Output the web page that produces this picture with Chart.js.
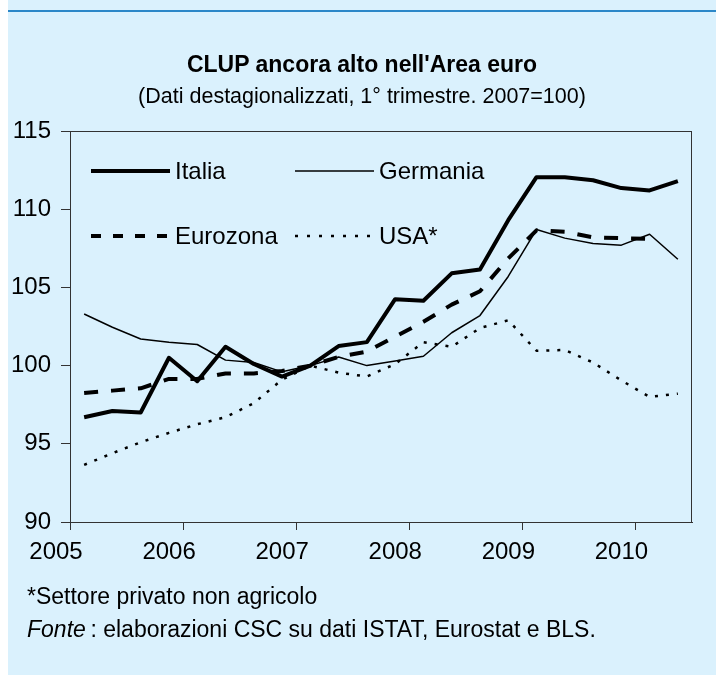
<!DOCTYPE html>
<html>
<head>
<meta charset="utf-8">
<script src="https://cdn.jsdelivr.net/npm/chart.js@4.4.1/dist/chart.umd.min.js"></script>
<style>
  html, body { margin: 0; padding: 0; background: #fff; }
  body { width: 716px; height: 675px; position: relative; overflow: hidden;
         font-family: 'Liberation Sans', Arial, sans-serif; color: #000; }
  #panel { position: absolute; left: 8px; top: 0; width: 708px; height: 675px; background: #DAF1FD; }
  #rule { position: absolute; left: 8px; top: 10px; width: 708px; height: 2px; background: #2B87C8; }
  #chart { position: absolute; left: 8px; top: 0; }
  .txt { position: absolute; white-space: nowrap; line-height: 1; }
  #title { left: 8px; width: 708px; text-align: center; top: 53px; font-size: 23px; font-weight: bold; }
  #subtitle { left: 8px; width: 708px; text-align: center; top: 86px; font-size: 21.5px; }
  #note1 { left: 27px; top: 585px; font-size: 23px; }
  #note2 { left: 27px; top: 618px; font-size: 23px; }
  .leg { position: absolute; height: 24px; display: flex; align-items: center; font-size: 24px; }
  .leg svg { margin-right: 5px; }
</style>
</head>
<body>
<div id="panel"></div>
<div id="rule"></div>
<canvas id="chart" width="708" height="675"></canvas>
<div class="txt" id="title">CLUP ancora alto nell'Area euro</div>
<div class="txt" id="subtitle">(Dati destagionalizzati, 1° trimestre. 2007=100)</div>
<div class="txt" id="note1">*Settore privato non agricolo</div>
<div class="txt" id="note2"><i>Fonte</i>&thinsp;: elaborazioni CSC su dati ISTAT, Eurostat e BLS.</div>
<div id="legend"></div>
<script>
// trimestri dal 2005 T1 al 2010 T2
const yearLabels = ['2005', '2006', '2007', '2008', '2009', '2010'];
const yTicks = [90, 95, 100, 105, 110, 115];

const italia   = [96.7, 97.1, 97.0, 100.5, 99.0, 101.2, 100.1, 99.3, 100.0, 101.25, 101.5, 104.25,
                  104.15, 105.9, 106.15, 109.3, 112.05, 112.05, 111.85, 111.35, 111.2, 111.8];
const germania = [103.3, 102.45, 101.7, 101.5, 101.35, 100.35, 100.2, 99.6, 100.0, 100.55, 100.0, 100.3,
                  100.6, 102.1, 103.2, 105.7, 108.7, 108.15, 107.8, 107.7, 108.4, 106.8];
const eurozona = [98.25, 98.4, 98.55, 99.15, 99.15, 99.5, 99.5, 99.65, 100.0, 100.55, 100.9, 101.85,
                  102.8, 103.9, 104.75, 106.85, 108.65, 108.55, 108.2, 108.15, 108.1, null];
const usa      = [93.65, 94.4, 95.1, 95.7, 96.25, 96.7, 97.6, 99.1, 100.0, 99.55, 99.3, 100.1,
                  101.5, 101.2, 102.4, 102.9, 100.95, 101.0, 100.2, 99.05, 98.0, 98.2];

const series = [
    { name: 'Italia',   data: italia,   width: 4,   dash: [],       legDash: '',      legX: 91,  legY: 159 },
    { name: 'Germania', data: germania, width: 1.5, dash: [],       legDash: '',      legX: 295, legY: 159 },
    { name: 'Eurozona', data: eurozona, width: 4,   dash: [14, 13], legDash: '10 12', legX: 91,  legY: 224 },
    { name: 'USA*',     data: usa,      width: 2.5, dash: [3, 8],   legDash: '3 9',   legX: 295, legY: 224 },
];

function toPoints(values) {
    return values.map((v, i) => ({ x: i, y: v }));
}

function buildLegend() {
    const box = document.getElementById('legend');
    for (const s of series) {
        const item = document.createElement('div');
        item.className = 'leg';
        item.style.left = s.legX + 'px';
        item.style.top = s.legY + 'px';
        item.innerHTML = `<svg width="79" height="10"><line x1="0" y1="5" x2="79" y2="5" stroke="#000"
            stroke-width="${s.width}" ${s.legDash ? `stroke-dasharray="${s.legDash}"` : ''}/></svg><span>${s.name}</span>`;
        box.appendChild(item);
    }
}

const frame = {
    id: 'frame',
    afterDraw(chart) {
        const a = chart.chartArea;
        const ctx = chart.ctx;
        ctx.save();
        ctx.strokeStyle = '#333';
        ctx.lineWidth = 1;
        ctx.strokeRect(Math.round(a.left) + 0.5, Math.round(a.top) + 0.5,
                       Math.round(a.right - a.left) - 1, Math.round(a.bottom - a.top));
        ctx.restore();
    }
};

function drawChart() {
    const font = { family: "'Liberation Sans', Arial, sans-serif", size: 24 };
    new Chart(document.getElementById('chart'), {
        type: 'line',
        data: {
            datasets: series.map(s => ({
                label: s.name,
                data: toPoints(s.data),
                borderColor: '#000',
                borderWidth: s.width,
                borderDash: s.dash,
                borderJoinStyle: 'round',
                pointRadius: 0,
                tension: 0,
                spanGaps: false,
            }))
        },
        options: {
            responsive: false,
            animation: false,
            devicePixelRatio: 1,
            layout: { padding: { top: 131, right: 24, bottom: 0, left: 0 } },
            plugins: { legend: { display: false }, title: { display: false }, tooltip: { enabled: false } },
            scales: {
                x: {
                    type: 'linear',
                    min: -0.5,
                    max: italia.length - 0.5,
                    afterBuildTicks: s => { s.ticks = yearLabels.map((y, i) => ({ value: i * 4 - 0.5 })); },
                    afterFit: s => { s.height = 153; },
                    grid: { drawOnChartArea: false, drawTicks: true, tickLength: 8, color: '#333' },
                    border: { display: true, color: '#333', width: 1 },
                    ticks: {
                        autoSkip: false,
                        maxRotation: 0,
                        labelOffset: -14,
                        padding: 8,
                        color: '#000',
                        font: font,
                        callback: (v, i) => yearLabels[i]
                    }
                },
                y: {
                    min: 90,
                    max: 115,
                    afterBuildTicks: s => { s.ticks = yTicks.map(v => ({ value: v })); },
                    afterFit: s => { s.width = 62; },
                    grid: { drawOnChartArea: false, drawTicks: true, tickLength: 9, color: '#333' },
                    border: { display: true, color: '#333', width: 1 },
                    ticks: { padding: 10, color: '#000', font: font }
                }
            }
        },
        plugins: [frame]
    });
}

buildLegend();
drawChart();
</script>
</body>
</html>
